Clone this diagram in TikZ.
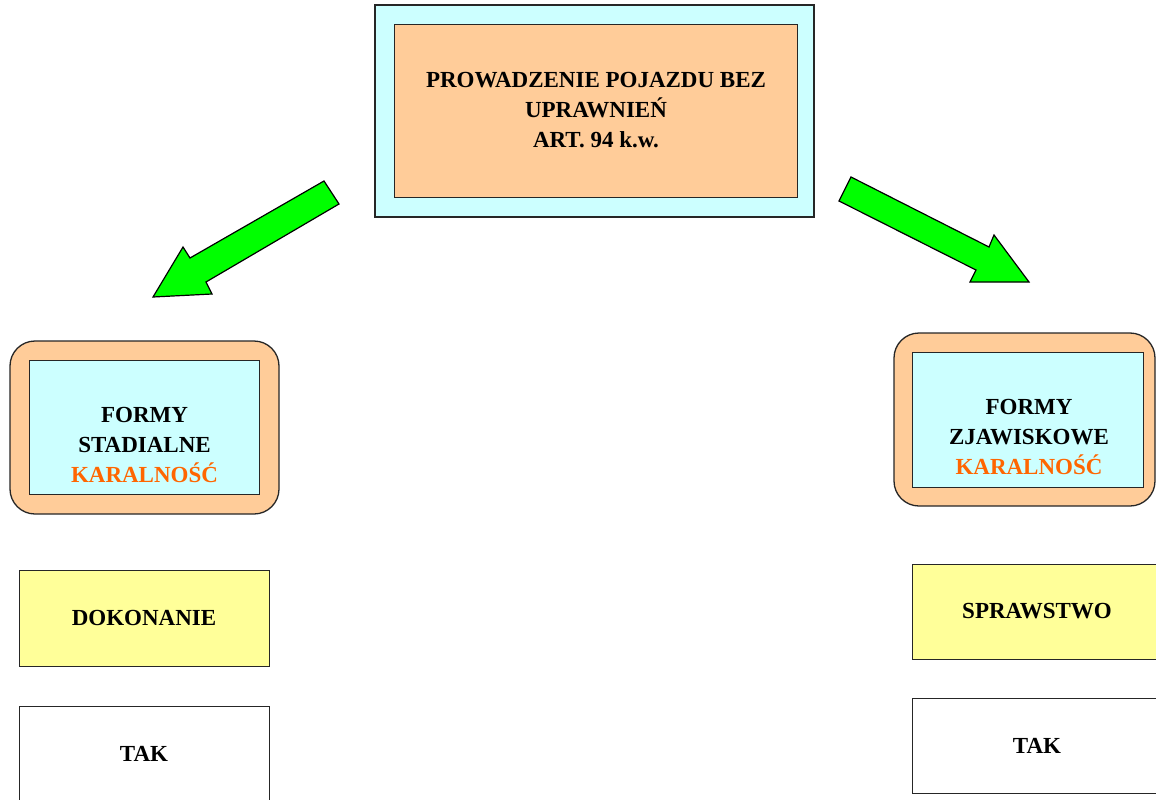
\documentclass[tikz,border=0pt]{standalone}
\usepackage{fontspec}
\setmainfont{Liberation Serif}
\definecolor{lcyan}{HTML}{CCFFFF}
\definecolor{peach}{HTML}{FFCC99}
\definecolor{lyellow}{HTML}{FFFF99}
\definecolor{korange}{HTML}{FF6600}
\definecolor{agreen}{HTML}{00FF00}
\begin{document}
\begin{tikzpicture}[x=1pt,y=-1pt,
  outerbox/.style={draw=black!85, line width=1.3pt, inner sep=0pt},
  innerbox/.style={draw=black!85, line width=0.9pt, inner sep=0pt},
  lbl/.style={align=center, font=\fontsize{23}{30}\selectfont\bfseries, inner sep=0pt},
  bigarrow/.style={draw=black, line width=1.2pt, fill=agreen, line join=miter}]
\useasboundingbox (0,0) rectangle (1156,800);
% top
\node[outerbox, fill=lcyan, minimum width=439pt, minimum height=212pt] (topout) at (594.5,111) {};
\node[innerbox, fill=peach, minimum width=403pt, minimum height=173pt] (topin) at (595.5,110.5) {};
\node[lbl] (toptxt) at (596,110) {PROWADZENIE POJAZDU BEZ\\UPRAWNIEŃ\\ART. 94 k.w.};
% left rounded
\node[outerbox, fill=peach, rounded corners=25pt, minimum width=269pt, minimum height=173pt] (lout) at (144.5,427.5) {};
\node[innerbox, fill=lcyan, minimum width=230pt, minimum height=134pt] (lin) at (144,427) {};
\node[lbl] (ltxt) at (144.5,445) {FORMY\\STADIALNE\\\textcolor{korange}{KARALNOŚĆ}};
% right rounded
\node[outerbox, fill=peach, rounded corners=25pt, minimum width=261pt, minimum height=173pt] (rout) at (1024.5,419.5) {};
\node[innerbox, fill=lcyan, minimum width=231pt, minimum height=135pt] (rin) at (1027.5,419.5) {};
\node[lbl] (rtxt) at (1029,437) {FORMY\\ZJAWISKOWE\\\textcolor{korange}{KARALNOŚĆ}};
% lower boxes
\node[innerbox, fill=lyellow, minimum width=250pt, minimum height=96pt, lbl] (dok) at (144,618) {DOKONANIE};
\node[innerbox, fill=white, minimum width=250pt, minimum height=96pt, lbl] (ltak) at (144,754) {TAK};
\node[innerbox, fill=lyellow, minimum width=250pt, minimum height=95pt, lbl] (spr) at (1037,611.5) {SPRAWSTWO};
\node[innerbox, fill=white, minimum width=250pt, minimum height=95pt, lbl] (rtak) at (1037,745.5) {TAK};
% arrows
\draw[bigarrow] (324,181) -- (339,204) -- (206,282) -- (212,294) -- (153,297) -- (183,247) -- (190,258) -- cycle;
\draw[bigarrow] (851,177) -- (989,247) -- (994,235) -- (1029,282) -- (970,282) -- (976,270) -- (839,201) -- cycle;
\end{tikzpicture}
\end{document}
